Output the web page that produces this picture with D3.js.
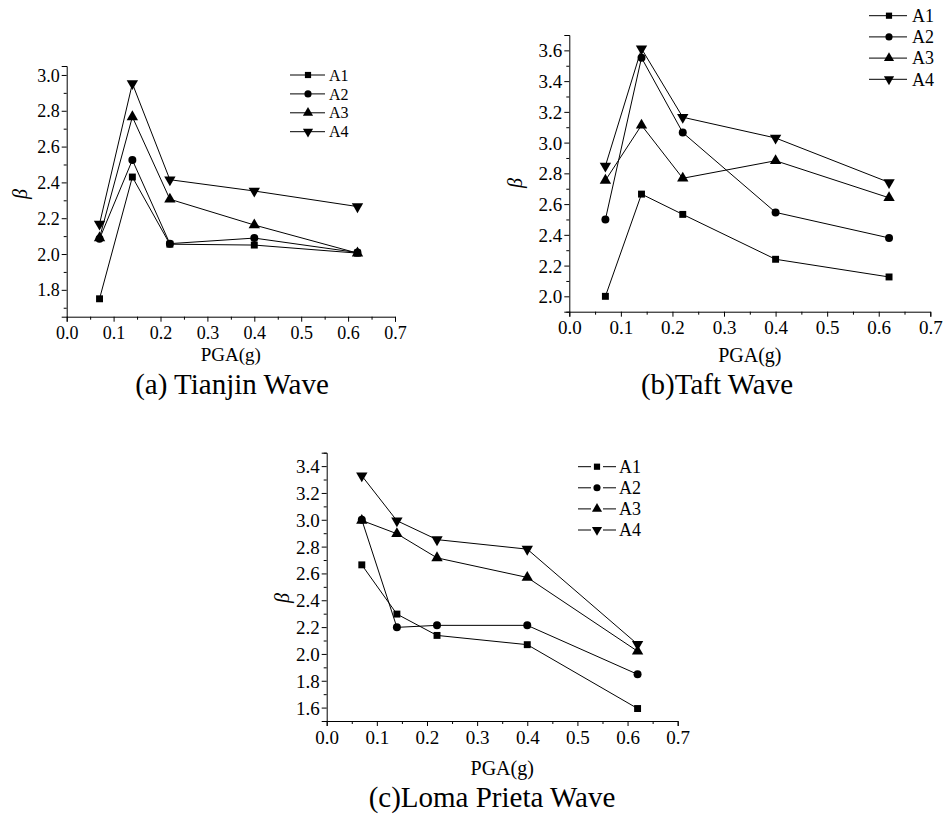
<!DOCTYPE html>
<html><head><meta charset="utf-8">
<script src="https://cdn.jsdelivr.net/npm/d3@7"></script>
<style>body{margin:0;background:#fff}svg{display:block}
svg text{font-family:"Liberation Serif","Times New Roman",Times,serif;}</style>
</head><body>
<svg id="c" width="944" height="819"></svg>
<script>
// ---- data ----
const pga = [0.07, 0.14, 0.22, 0.40, 0.62];
const seriesNames = ["A1", "A2", "A3", "A4"];
const xTicks = [0, 0.1, 0.2, 0.3, 0.4, 0.5, 0.6, 0.7];

const tianjinA1 = [1.75, 2.43, 2.055, 2.05, 2.005];
const tianjinA2 = [2.085, 2.525, 2.058, 2.089, 2.008];
const tianjinA3 = [2.09, 2.766, 2.306, 2.162, 2.005];
const tianjinA4 = [2.168, 2.952, 2.415, 2.352, 2.265];
const tianjinYTicks = [1.8, 2.0, 2.2, 2.4, 2.6, 2.8, 3.0];

const taftA1 = [2.0, 2.665, 2.533, 2.241, 2.126];
const taftA2 = [2.5, 3.552, 3.065, 2.546, 2.38];
const taftA3 = [2.754, 3.113, 2.768, 2.882, 2.641];
const taftA4 = [2.848, 3.611, 3.165, 3.03, 2.741];
const taftYTicks = [2.0, 2.2, 2.4, 2.6, 2.8, 3.0, 3.2, 3.4, 3.6];

const lomaA1 = [2.664, 2.297, 2.138, 2.069, 1.593];
const lomaA2 = [3.0, 2.198, 2.213, 2.213, 1.848];
const lomaA3 = [2.995, 2.896, 2.716, 2.57, 2.02];
const lomaA4 = [3.328, 2.993, 2.852, 2.781, 2.072];
const lomaYTicks = [1.6, 1.8, 2.0, 2.2, 2.4, 2.6, 2.8, 3.0, 3.2, 3.4];

const captions = ["(a) Tianjin Wave", "(b)Taft Wave", "(c)Loma Prieta Wave"];

// ---- layout ----
const svg = d3.select("#c");
const symbolTypes = [d3.symbolSquare, d3.symbolCircle, d3.symbolTriangle, d3.symbolTriangle];
const symbolRot = [0, 0, 0, 180];
const symbolSizes = [48, 50, 56, 56];

const panels = [
  {series:[tianjinA1,tianjinA2,tianjinA3,tianjinA4], yTicks:tianjinYTicks, yDom:[1.65,3.05],
   xr:[66.7,395], yr:[316.7,66], font:18, pad:4, titleFont:19, axisTitleY:361, betaX:20, betaY:194,
   caption:captions[0], capX:232, capY:394, capFont:29,
   leg:{x0:290,x1:325,mx:308,tx:329,y0:75,dy:18.9,font:16,gap:false}},
  {series:[taftA1,taftA2,taftA3,taftA4], yTicks:taftYTicks, yDom:[1.9,3.7],
   xr:[569.3,930.3], yr:[311.7,35], font:19, pad:4, titleFont:20, axisTitleY:362, betaX:515, betaY:183,
   caption:captions[1], capX:717, capY:394, capFont:29,
   leg:{x0:869,x1:907,mx:889,tx:912,y0:15.7,dy:21.2,font:18,gap:false}},
  {series:[lomaA1,lomaA2,lomaA3,lomaA4], yTicks:lomaYTicks, yDom:[1.5,3.5],
   xr:[326.7,677.7], yr:[721,452.7], font:19, pad:4, titleFont:20, axisTitleY:775, betaX:282, betaY:598,
   caption:captions[2], capX:492, capY:807, capFont:29,
   leg:{x0:578,x1:616,mx:597,tx:619,y0:466.7,dy:21.1,font:18,gap:true}}
];

panels.forEach(p => {
  const x = d3.scaleLinear().domain([0,0.7]).range(p.xr);
  const y = d3.scaleLinear().domain(p.yDom).range(p.yr);
  const g = svg.append("g");

  // minor ticks
  const xMinor = d3.range(0.05, 0.7, 0.1);
  g.append("g").attr("transform",`translate(0,${p.yr[0]})`)
    .call(d3.axisBottom(x).tickValues(xMinor).tickSize(3).tickFormat(""))
    .call(s=>s.select(".domain").remove());
  const yMinor = d3.range(Math.ceil(p.yDom[0]*10), Math.floor(p.yDom[1]*10)+1)
      .map(v=>v/10).filter(v=>Math.round(v*10)%2!==0);
  g.append("g").attr("transform",`translate(${p.xr[0]},0)`)
    .call(d3.axisLeft(y).tickValues(yMinor).tickSize(3).tickFormat(""))
    .call(s=>s.select(".domain").remove());

  // major axes
  const xa = g.append("g").attr("transform",`translate(0,${p.yr[0]})`)
    .call(d3.axisBottom(x).tickValues(xTicks).tickSize(5).tickPadding(p.pad).tickFormat(d3.format(".1f")));
  const ya = g.append("g").attr("transform",`translate(${p.xr[0]},0)`)
    .call(d3.axisLeft(y).tickValues(p.yTicks).tickSize(5).tickPadding(2).tickFormat(d3.format(".1f")));
  [xa, ya].forEach(a => {
    a.attr("font-family",null).attr("font-size",null);
    a.selectAll("text").style("font-size",p.font+"px").attr("fill","#000");
    a.selectAll("line,path").attr("stroke","#000").attr("stroke-width",1);
  });
  ya.selectAll("text").attr("dy","0.34em");
  xa.selectAll("text").attr("dy","0.72em");
  g.selectAll(".tick line").attr("stroke","#000");

  // axis titles
  g.append("text").attr("x",(p.xr[0]+p.xr[1])/2).attr("y",p.axisTitleY)
    .attr("text-anchor","middle").style("font-size",p.titleFont+"px").text("PGA(g)");
  g.append("text").attr("transform",`translate(${p.betaX},${p.betaY}) rotate(-90)`)
    .attr("text-anchor","middle").attr("dy","0.35em")
    .style("font-style","italic").style("font-size","20px").text("β");

  // caption
  g.append("text").attr("x",p.capX).attr("y",p.capY).attr("text-anchor","middle")
    .style("font-size",p.capFont+"px").text(p.caption);

  // series
  const line = d3.line().x((d,i)=>x(pga[i])).y(d=>y(d));
  p.series.forEach((vals,si) => {
    g.append("path").datum(vals).attr("d",line).attr("fill","none")
      .attr("stroke","#000").attr("stroke-width",1);
    g.selectAll(null).data(vals).enter().append("path")
      .attr("d", d3.symbol().type(symbolTypes[si]).size(symbolSizes[si]))
      .attr("transform",(d,i)=>`translate(${x(pga[i])},${y(d)}) rotate(${symbolRot[si]})`)
      .attr("fill","#000");
  });

  // legend
  const L = p.leg;
  seriesNames.forEach((name,si) => {
    const ly = L.y0 + si*L.dy;
    if (L.gap) {
      g.append("line").attr("x1",L.x0).attr("x2",L.mx-6).attr("y1",ly).attr("y2",ly).attr("stroke","#000");
      g.append("line").attr("x1",L.mx+6).attr("x2",L.x1).attr("y1",ly).attr("y2",ly).attr("stroke","#000");
    } else {
      g.append("line").attr("x1",L.x0).attr("x2",L.x1).attr("y1",ly).attr("y2",ly).attr("stroke","#000");
    }
    g.append("path").attr("d", d3.symbol().type(symbolTypes[si]).size(symbolSizes[si]*0.8))
      .attr("transform",`translate(${L.mx},${ly}) rotate(${symbolRot[si]})`).attr("fill","#000");
    g.append("text").attr("x",L.tx).attr("y",ly).attr("dy","0.35em")
      .style("font-size",L.font+"px").text(name);
  });
});
</script>
</body></html>
